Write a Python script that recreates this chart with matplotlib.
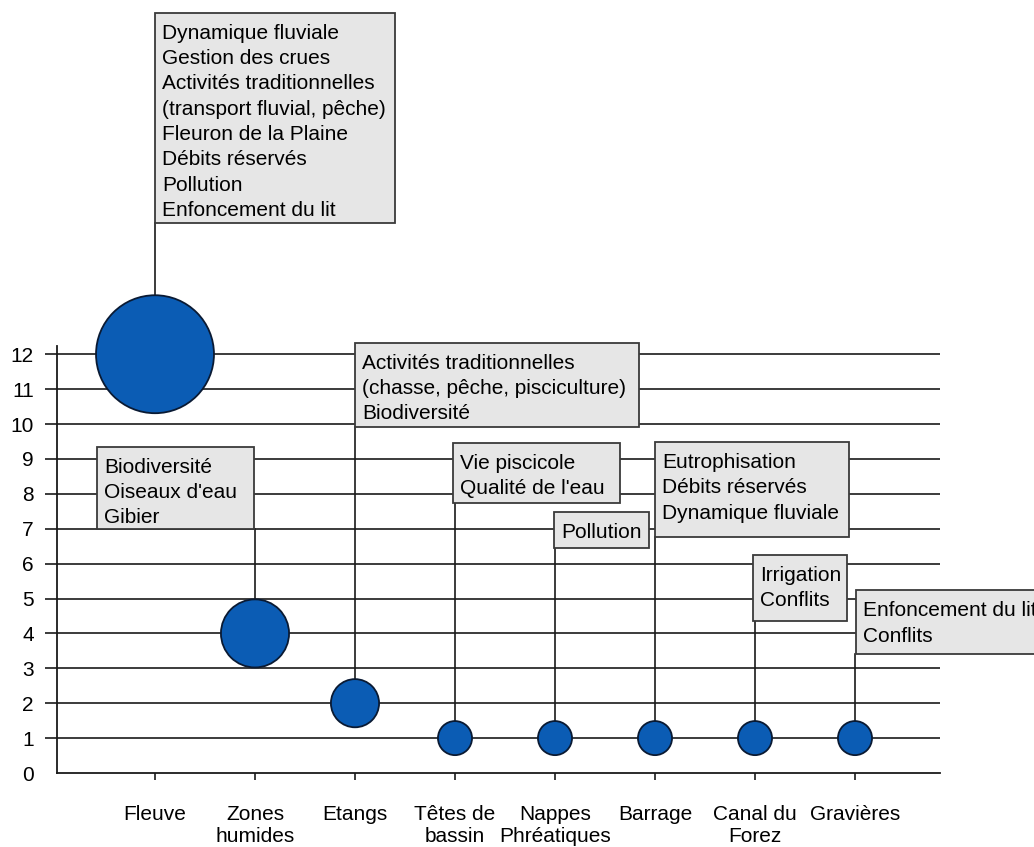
import matplotlib.pyplot as plt
from matplotlib.patches import Rectangle

plt.rcParams['font.family'] = ['Liberation Sans', 'DejaVu Sans']

# data
categories = ["Fleuve", "Zones\nhumides", "Etangs", "Têtes de\nbassin",
              "Nappes\nPhréatiques", "Barrage", "Canal du\nForez", "Gravières"]
values = [12, 4, 2, 1, 1, 1, 1, 1]
notes = [
    "Dynamique fluviale\nGestion des crues\nActivités traditionnelles\n(transport fluvial, pêche)\n"
    "Fleuron de la Plaine\nDébits réservés\nPollution\nEnfoncement du lit",
    "Biodiversité\nOiseaux d'eau\nGibier",
    "Activités traditionnelles\n(chasse, pêche, pisciculture)\nBiodiversité",
    "Vie piscicole\nQualité de l'eau",
    "Pollution",
    "Eutrophisation\nDébits réservés\nDynamique fluviale",
    "Irrigation\nConflits",
    "Enfoncement du lit\nConflits",
]

# callout boxes layout (data units): left, top, right, bottom
box_left = [0.0, -0.58, 2.0, 2.98, 3.99, 5.0, 5.98, 7.01]
box_top = [21.78, 9.34, 12.32, 9.46, 7.48, 9.48, 6.25, 5.23]
box_right = [2.40, 0.99, 4.84, 4.65, 4.94, 6.94, 6.92, 9.2]
box_bottom = [15.76, 6.99, 9.91, 7.74, 6.46, 6.76, 4.36, 3.41]

blue = '#0b5cb4'
fig = plt.figure(figsize=(10.34, 8.47), dpi=100)
ax = fig.add_axes([57/1034, 74/847, 883/1034, 427.5/847])
x = list(range(len(categories)))

# gridlines
for v in range(1, 13):
    ax.axhline(v, color='#1a1a1a', lw=1.2, zorder=1)

# leader lines + boxes
for i in x:
    ax.plot([i, i], [values[i], box_bottom[i]], color='#1a1a1a', lw=1.2,
            zorder=2, clip_on=False)
    r = Rectangle((box_left[i], box_bottom[i]), box_right[i] - box_left[i],
                  box_top[i] - box_bottom[i], facecolor='#e6e6e6',
                  edgecolor='#3a3a3a', lw=1.3, zorder=3, clip_on=False)
    ax.add_patch(r)
    ax.text(box_left[i] + 0.07, box_top[i] - 0.31, notes[i], fontsize=15,
            va='top', ha='left', linespacing=1.42, zorder=4, clip_on=False)

# bubbles, area proportional to value
ax.scatter(x, values, s=[v * 601 for v in values], color=blue,
           edgecolor='#0a1a33', lw=1.3, zorder=5, clip_on=False)

ax.set_xlim(-0.98, 7.85)
ax.set_ylim(0, 12.25)
ax.set_xticks(x)
ax.set_xticklabels(categories, fontsize=15, linespacing=1.2)
ax.set_yticks(range(0, 13))
ax.set_yticklabels([str(v) for v in range(0, 13)], fontsize=15)
ax.tick_params(axis='y', length=8.6, width=1.2, pad=8, color='#1a1a1a')
ax.tick_params(axis='x', length=5, width=1.2, pad=18, color='#1a1a1a')
ax.yaxis.get_major_ticks()[0].tick1line.set_visible(False)
for s in ['top', 'right']:
    ax.spines[s].set_visible(False)
for s in ['left', 'bottom']:
    ax.spines[s].set_linewidth(1.3)
    ax.spines[s].set_color('#1a1a1a')

plt.savefig("out.png", dpi=100)
